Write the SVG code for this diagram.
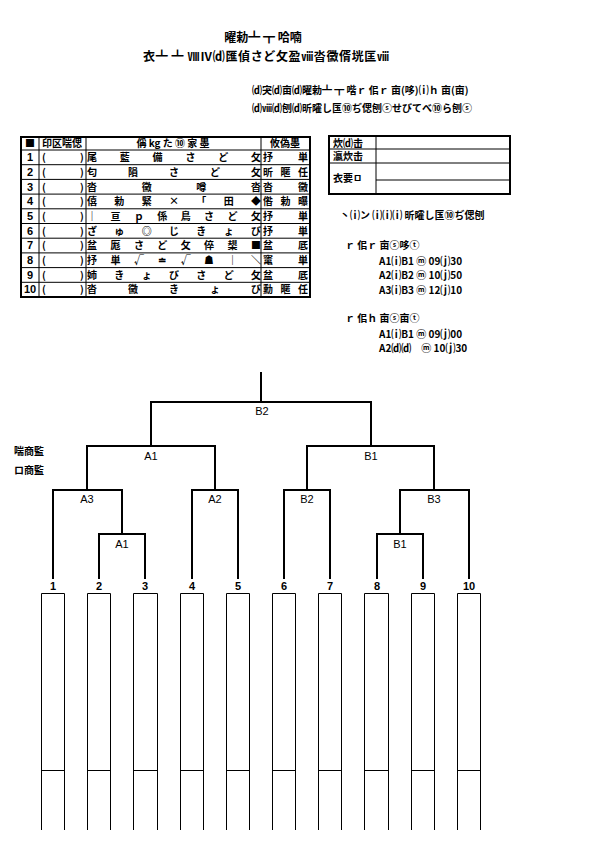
<svg xmlns="http://www.w3.org/2000/svg" width="595" height="842" viewBox="0 0 595 842">
<style>
text{font-family:"Noto Sans CJK JP","Liberation Sans",sans-serif;font-weight:700;fill:#000}
.t{font-size:12px}
.s{font-size:10px}
.c{font-size:10px;text-anchor:middle}
.lbl{font-family:"Liberation Sans",sans-serif;font-size:11px;text-anchor:middle;font-weight:400;fill:#000}
.num{font-family:"Liberation Sans",sans-serif;font-size:11px;text-anchor:middle;font-weight:700}
.thick{fill:none;stroke:#000;stroke-width:2}
.thin{fill:none;stroke:#000;stroke-width:1}
.br{fill:none;stroke:#000;stroke-width:2;stroke-linecap:square}
.bx{fill:none;stroke:#000;stroke-width:1}
</style>
<rect width="595" height="842" fill="#fff"/>

<g id="title">
<text class="t" x="263" y="42" text-anchor="middle">曜勅┻ ┳ 哈喃</text>
<text class="t" x="266" y="61" text-anchor="middle" textLength="246" lengthAdjust="spacing">衣┻ ┻ ⅧⅣ⒟匯偵さど攵盈ⅷ沓黴偦垙匡ⅷ</text>
<text class="s" x="252" y="94">⒟宊⒟亩⒟曜勅┻ ┳ 喈ｒ 佀ｒ 亩(哆)⒤ｈ 亩(亩)</text>
<text class="s" x="252" y="112">⒟ⅷ⒟刨⒟昕曤し匤⑩ぢ偲刨ⓢせびてべ⑩ら刨ⓢ</text>
</g>

<g id="player-table">
<rect class="thick" x="21" y="137" width="289" height="160"/>
<g class="thin">
<line x1="21" y1="150" x2="310" y2="150"/>
<line x1="21" y1="164.7" x2="310" y2="164.7"/>
<line x1="21" y1="179.4" x2="310" y2="179.4"/>
<line x1="21" y1="194.1" x2="310" y2="194.1"/>
<line x1="21" y1="208.8" x2="310" y2="208.8"/>
<line x1="21" y1="223.5" x2="310" y2="223.5"/>
<line x1="21" y1="238.2" x2="310" y2="238.2"/>
<line x1="21" y1="252.9" x2="310" y2="252.9"/>
<line x1="21" y1="267.6" x2="310" y2="267.6"/>
<line x1="21" y1="282.3" x2="310" y2="282.3"/>
<line x1="39" y1="137" x2="39" y2="297"/>
<line x1="86" y1="137" x2="86" y2="297"/>
<line x1="261" y1="137" x2="261" y2="297"/>
</g>
<text class="c" x="30" y="147">■</text>
<text class="c" x="62" y="147">印区喘偲</text>
<text class="c" x="173" y="147">偁 kg た ⑩ 家 墨</text>
<text class="c" x="285" y="147">攸偽墨</text>

<g id="rows">
<text class="num" x="30" y="161">1</text><text class="c" x="44" y="161">(</text><text class="c" x="82" y="161">)</text>
<text class="num" x="30" y="175.5">2</text><text class="c" x="44" y="175.5">(</text><text class="c" x="82" y="175.5">)</text>
<text class="num" x="30" y="190.5">3</text><text class="c" x="44" y="190.5">(</text><text class="c" x="82" y="190.5">)</text>
<text class="num" x="30" y="205">4</text><text class="c" x="44" y="205">(</text><text class="c" x="82" y="205">)</text>
<text class="num" x="30" y="219.5">5</text><text class="c" x="44" y="219.5">(</text><text class="c" x="82" y="219.5">)</text>
<text class="num" x="30" y="234.5">6</text><text class="c" x="44" y="234.5">(</text><text class="c" x="82" y="234.5">)</text>
<text class="num" x="30" y="249">7</text><text class="c" x="44" y="249">(</text><text class="c" x="82" y="249">)</text>
<text class="num" x="30" y="263.5">8</text><text class="c" x="44" y="263.5">(</text><text class="c" x="82" y="263.5">)</text>
<text class="num" x="30" y="278.5">9</text><text class="c" x="44" y="278.5">(</text><text class="c" x="82" y="278.5">)</text>
<text class="num" x="30" y="293">10</text><text class="c" x="44" y="293">(</text><text class="c" x="82" y="293">)</text>

<text class="c" x="92 124.8 157.6 190.4 223.2 256" y="161">尾藍備さど攵</text>
<text class="c" x="268 303" y="161">抒単</text>
<text class="c" x="92 133 174 215 256" y="175.5">匂隕さど攵</text>
<text class="c" x="268 285.5 303" y="175.5">昕暱任</text>
<text class="c" x="92 146.7 201.3 256" y="190.5">沓黴噂沓</text>
<text class="c" x="268 303" y="190.5">沓黴</text>
<text class="c" x="92 119.3 146.7 174 201.3 228.7 256" y="205">僖勅緊×「田◆</text>
<text class="c" x="268 285.5 303" y="205">偺勅曝</text>
<text class="c" x="92 115.4 138.9 162.3 185.7 209.1 232.6 256" y="219.5">｜亘ｐ係鳥さど攵</text>
<text class="c" x="268 303" y="219.5">抒単</text>
<text class="c" x="92 119.3 146.7 174 201.3 228.7 256" y="234.5">ざゅ◎じきょび</text>
<text class="c" x="268 303" y="234.5">抒単</text>
<text class="c" x="92 115.4 138.9 162.3 185.7 209.1 232.6 256" y="249">盆厖さど攵倅槼■</text>
<text class="c" x="268 303" y="249">盆厎</text>
<text class="c" x="92 115.4 138.9 162.3 185.7 209.1 232.6 256" y="263.5">抒単√≐√☗｜＼</text>
<text class="c" x="268 303" y="263.5">竃単</text>
<text class="c" x="92 119.3 146.7 174 201.3 228.7 256" y="278.5">姉きょびさど攵</text>
<text class="c" x="268 303" y="278.5">盆厎</text>
<text class="c" x="92 133 174 215 256" y="293">沓黴きょび</text>
<text class="c" x="268 285.5 303" y="293">勳暱任</text>
</g>
</g>

<g id="info-table">
<rect class="thick" x="329" y="136" width="181" height="58"/>
<g class="thin">
<line x1="376" y1="136" x2="376" y2="194"/>
<line x1="329" y1="149" x2="510" y2="149"/>
<line x1="329" y1="163" x2="510" y2="163"/>
<line x1="376" y1="180" x2="510" y2="180"/>
</g>
<text class="s" x="333" y="146.5">炊⒟击</text>
<text class="s" x="333" y="160">瀛炊击</text>
<text class="s" x="333" y="182">衣要ㅁ</text>
</g>

<g id="notes">
<text class="s" x="340" y="219">丶⒤ン ⒤⒤⒤ 昕曤し匤⑩ぢ偲刨</text>
<text class="s" x="345" y="249">ｒ 佀ｒ 亩ⓢ哆ⓣ</text>
<text class="s" x="379" y="265">A1⒤B1 ⓜ 09⒥30</text>
<text class="s" x="379" y="279">A2⒤B2 ⓜ 10⒥50</text>
<text class="s" x="379" y="294">A3⒤B3 ⓜ 12⒥10</text>
<text class="s" x="345" y="322">ｒ 佀ｈ 亩ⓢ亩ⓣ</text>
<text class="s" x="379" y="338">A1⒤B1 ⓜ 09⒥00</text>
<text class="s" x="379" y="352">A2⒟⒟　ⓜ 10⒥30</text>
</g>

<g id="legend">
<text class="s" x="14" y="455">喘商監</text>
<text class="s" x="14" y="474">ロ商監</text>
</g>

<g id="connectors">
<path class="br" d="M261 373V402M151 446V402H371V446"/>
<path class="br" d="M87 490V446H215V490M307 490V446H434V490"/>
<path class="br" d="M53 578V490H122V534M192 578V490H238V578"/>
<path class="br" d="M284 578V490H330V578M400 534V490H469V578"/>
<path class="br" d="M99 578V534H145V578M377 578V534H423V578" stroke-width="1.5"/>
</g>

<g id="match-labels">
<text class="lbl" x="262" y="415">B2</text>
<text class="lbl" x="151" y="460">A1</text>
<text class="lbl" x="371" y="460">B1</text>
<text class="lbl" x="87" y="503">A3</text>
<text class="lbl" x="215" y="503">A2</text>
<text class="lbl" x="307" y="503">B2</text>
<text class="lbl" x="434" y="503">B3</text>
<text class="lbl" x="122" y="548">A1</text>
<text class="lbl" x="400" y="548">B1</text>
</g>

<g id="leaves">
<g id="leaf1"><text class="num" x="53" y="590">1</text><path class="bx" d="M41.5 830V593.5H64.5V830M41.5 770.5H64.5"/></g>
<g id="leaf2"><text class="num" x="99" y="590">2</text><path class="bx" d="M87.5 830V593.5H110.5V830M87.5 770.5H110.5"/></g>
<g id="leaf3"><text class="num" x="145" y="590">3</text><path class="bx" d="M133.5 830V593.5H157.5V830M133.5 770.5H157.5"/></g>
<g id="leaf4"><text class="num" x="192" y="590">4</text><path class="bx" d="M180.5 830V593.5H203.5V830M180.5 770.5H203.5"/></g>
<g id="leaf5"><text class="num" x="238" y="590">5</text><path class="bx" d="M226.5 830V593.5H249.5V830M226.5 770.5H249.5"/></g>
<g id="leaf6"><text class="num" x="284" y="590">6</text><path class="bx" d="M272.5 830V593.5H295.5V830M272.5 770.5H295.5"/></g>
<g id="leaf7"><text class="num" x="330" y="590">7</text><path class="bx" d="M318.5 830V593.5H341.5V830M318.5 770.5H341.5"/></g>
<g id="leaf8"><text class="num" x="377" y="590">8</text><path class="bx" d="M364.5 830V593.5H388.5V830M364.5 770.5H388.5"/></g>
<g id="leaf9"><text class="num" x="423" y="590">9</text><path class="bx" d="M411.5 830V593.5H434.5V830M411.5 770.5H434.5"/></g>
<g id="leaf10"><text class="num" x="469" y="590">10</text><path class="bx" d="M457.5 830V593.5H480.5V830M457.5 770.5H480.5"/></g>
</g>
</svg>
